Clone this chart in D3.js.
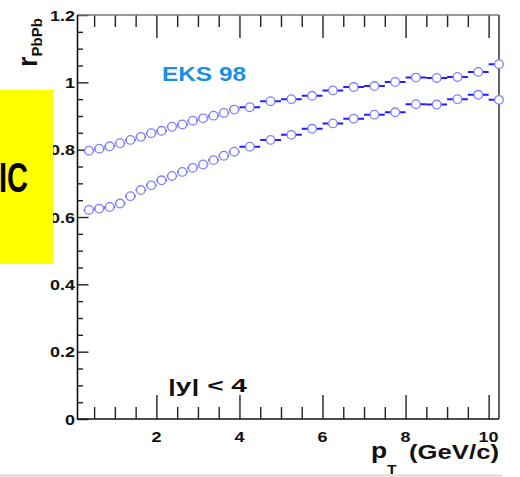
<!DOCTYPE html>
<html lang="en">
<head>
    <meta charset="UTF-8">
    <title>r PbPb vs pT</title>
    <script src="https://cdn.jsdelivr.net/npm/d3@7"></script>
    <style>
        html, body {
            margin: 0;
            padding: 0;
            width: 100%;
            height: 100%;
            overflow: hidden;
            background: #ffffff;
        }
        text {
            font-family: "Liberation Sans", Arial, Helvetica, sans-serif;
            font-weight: bold;
        }
    </style>
</head>
<body>
</body>
<script>
    // bin centres (GeV/c) and half widths
    const pT = [0.375, 0.625, 0.875, 1.125, 1.375, 1.625, 1.875, 2.125, 2.375, 2.625,
        2.875, 3.125, 3.375, 3.625, 3.875, 4.25, 4.75, 5.25, 5.75, 6.25,
        6.75, 7.25, 7.75, 8.25, 8.75, 9.25, 9.75, 10.25];
    const binHalf = [0.125, 0.125, 0.125, 0.125, 0.125, 0.125, 0.125, 0.125, 0.125, 0.125,
        0.125, 0.125, 0.125, 0.125, 0.125, 0.25, 0.25, 0.25, 0.25, 0.25,
        0.25, 0.25, 0.25, 0.25, 0.25, 0.25, 0.25, 0.25];

    // upper and lower EKS98 curves
    const upperR = [0.797, 0.803, 0.810, 0.819, 0.829, 0.838, 0.849, 0.856, 0.868, 0.875,
        0.886, 0.893, 0.901, 0.909, 0.919, 0.926, 0.944, 0.950, 0.960, 0.976,
        0.986, 0.989, 1.001, 1.014, 1.013, 1.016, 1.031, 1.054];
    const lowerR = [0.621, 0.625, 0.630, 0.640, 0.662, 0.680, 0.694, 0.709, 0.722, 0.734,
        0.746, 0.756, 0.769, 0.782, 0.794, 0.809, 0.829, 0.844, 0.862, 0.878,
        0.892, 0.904, 0.911, 0.935, 0.934, 0.950, 0.963, 0.948];

    const xTicks = [2, 4, 6, 8, 10];
    const xTickLabels = ['2', '4', '6', '8', '10'];
    const yTicks = [0, 0.2, 0.4, 0.6, 0.8, 1, 1.2];
    const yTickLabels = ['0', '0.2', '0.4', '0.6', '0.8', '1', '1.2'];

    const W = 520;
    const H = 477;
    const m = {left: 77.5, right: 499, top: 15, bottom: 419};
    const stretch = 1.2; // text in the picture is wider than tall

    let svg = d3.select('body')
        .append('svg')
        .attr('width', W)
        .attr('height', H);

    let x = d3.scaleLinear().domain([0.1, 10.25]).range([m.left, m.right]);
    let y = d3.scaleLinear().domain([0, 1.2]).range([m.bottom, m.top]);

    // minor ticks every 0.5 on x, every 0.05 on y
    let xMinor = d3.range(0.5, 10.25, 0.5).filter(v => v % 2 !== 0);
    let yMinor = d3.range(0.05, 1.2, 0.05).filter(v => Math.abs(v * 5 - Math.round(v * 5)) > 1e-6);

    function axisG(axis, tx, ty) {
        let g = svg.append('g')
            .attr('transform', `translate(${tx},${ty})`)
            .call(axis);
        g.select('.domain').remove();
        g.selectAll('text').remove();
        g.selectAll('line').attr('stroke', '#222').attr('stroke-width', 1.4);
        return g;
    }

    axisG(d3.axisBottom(x).tickValues(xTicks).tickSize(-24), 0, m.bottom);
    axisG(d3.axisBottom(x).tickValues(xMinor).tickSize(-12), 0, m.bottom);
    axisG(d3.axisTop(x).tickValues(xTicks).tickSize(-23), 0, m.top);
    axisG(d3.axisTop(x).tickValues(xMinor).tickSize(-12), 0, m.top);
    axisG(d3.axisLeft(y).tickValues(yTicks).tickSize(-11), m.left, 0);
    axisG(d3.axisLeft(y).tickValues(yMinor).tickSize(-5.5), m.left, 0);

    // frame
    svg.append('line').attr('x1', m.left).attr('x2', m.right).attr('y1', m.top).attr('y2', m.top)
        .attr('stroke', '#777').attr('stroke-width', 1.6);
    svg.append('line').attr('x1', m.right).attr('x2', m.right).attr('y1', m.top).attr('y2', m.bottom)
        .attr('stroke', '#666').attr('stroke-width', 2);
    svg.append('line').attr('x1', m.left).attr('x2', m.left).attr('y1', m.top).attr('y2', m.bottom + 0.7)
        .attr('stroke', '#111').attr('stroke-width', 1.6);
    svg.append('line').attr('x1', m.left).attr('x2', m.right).attr('y1', m.bottom).attr('y2', m.bottom)
        .attr('stroke', '#111').attr('stroke-width', 1.6);

    // tick labels
    svg.append('g').selectAll('text')
        .data(yTicks)
        .enter().append('text')
        .attr('transform', d => `translate(75,${y(d) + 5.5}) scale(${stretch},1)`)
        .attr('text-anchor', 'end')
        .attr('font-size', 15)
        .attr('fill', '#111')
        .text((d, i) => yTickLabels[i]);

    svg.append('g').selectAll('text')
        .data(xTicks)
        .enter().append('text')
        .attr('transform', d => `translate(${x(d)},442) scale(${stretch},1)`)
        .attr('text-anchor', 'middle')
        .attr('font-size', 15)
        .attr('fill', '#111')
        .text((d, i) => xTickLabels[i]);

    // data
    svg.append('clipPath').attr('id', 'plot-clip')
        .append('rect').attr('x', m.left).attr('y', m.top)
        .attr('width', m.right - m.left).attr('height', m.bottom - m.top);

    let series = [upperR, lowerR];
    let bars = svg.append('g').attr('clip-path', 'url(#plot-clip)');
    let marks = svg.append('g');
    series.forEach(vals => {
        bars.selectAll(null)
            .data(vals)
            .enter().append('line')
            .attr('x1', (d, i) => x(pT[i] - binHalf[i]))
            .attr('x2', (d, i) => x(pT[i] + binHalf[i]))
            .attr('y1', d => y(d))
            .attr('y2', d => y(d))
            .attr('stroke', '#1f1fff')
            .attr('stroke-width', 2);
        marks.selectAll(null)
            .data(vals)
            .enter().append('circle')
            .attr('cx', (d, i) => x(pT[i]))
            .attr('cy', d => y(d))
            .attr('r', 4.3)
            .attr('fill', '#ffffff')
            .attr('stroke', '#7f7fff')
            .attr('stroke-width', 1.3);
    });

    // annotations
    svg.append('text')
        .attr('x', 162).attr('y', 81)
        .attr('font-size', 20)
        .attr('fill', '#1b8fe6')
        .attr('textLength', 84).attr('lengthAdjust', 'spacingAndGlyphs')
        .text('EKS 98');

    svg.append('text')
        .attr('x', 168).attr('y', 392)
        .attr('font-size', 19)
        .attr('fill', '#111')
        .attr('textLength', 79).attr('lengthAdjust', 'spacingAndGlyphs')
        .text('|y| < 4');

    // x title
    svg.append('text')
        .attr('transform', `translate(371,458) scale(${stretch},1)`)
        .attr('font-size', 22).attr('fill', '#111')
        .text('p');
    svg.append('text')
        .attr('transform', `translate(387,474) scale(${stretch},1)`)
        .attr('font-size', 13).attr('fill', '#111')
        .text('T');
    svg.append('text')
        .attr('x', 409).attr('y', 459)
        .attr('font-size', 21).attr('fill', '#111')
        .attr('textLength', 90).attr('lengthAdjust', 'spacingAndGlyphs')
        .text('(GeV/c)');

    // y title
    let yTitle = svg.append('text')
        .attr('transform', 'translate(37,67) rotate(-90)')
        .attr('fill', '#111');
    yTitle.append('tspan').attr('font-size', 27).text('r');
    yTitle.append('tspan').attr('font-size', 15).attr('dy', 5).text('PbPb');

    // yellow box on the left
    svg.append('rect')
        .attr('x', 0).attr('y', 90)
        .attr('width', 53).attr('height', 174)
        .attr('fill', '#ffff00');
    svg.append('text')
        .attr('x', -1).attr('y', 192)
        .attr('font-size', 42)
        .attr('fill', '#000')
        .attr('textLength', 29).attr('lengthAdjust', 'spacingAndGlyphs')
        .text('IC');

    // grey rule along the bottom
    svg.append('line')
        .attr('x1', 0).attr('x2', 502).attr('y1', 475.5).attr('y2', 475.5)
        .attr('stroke', '#d9d9d9').attr('stroke-width', 2);
</script>
</html>
